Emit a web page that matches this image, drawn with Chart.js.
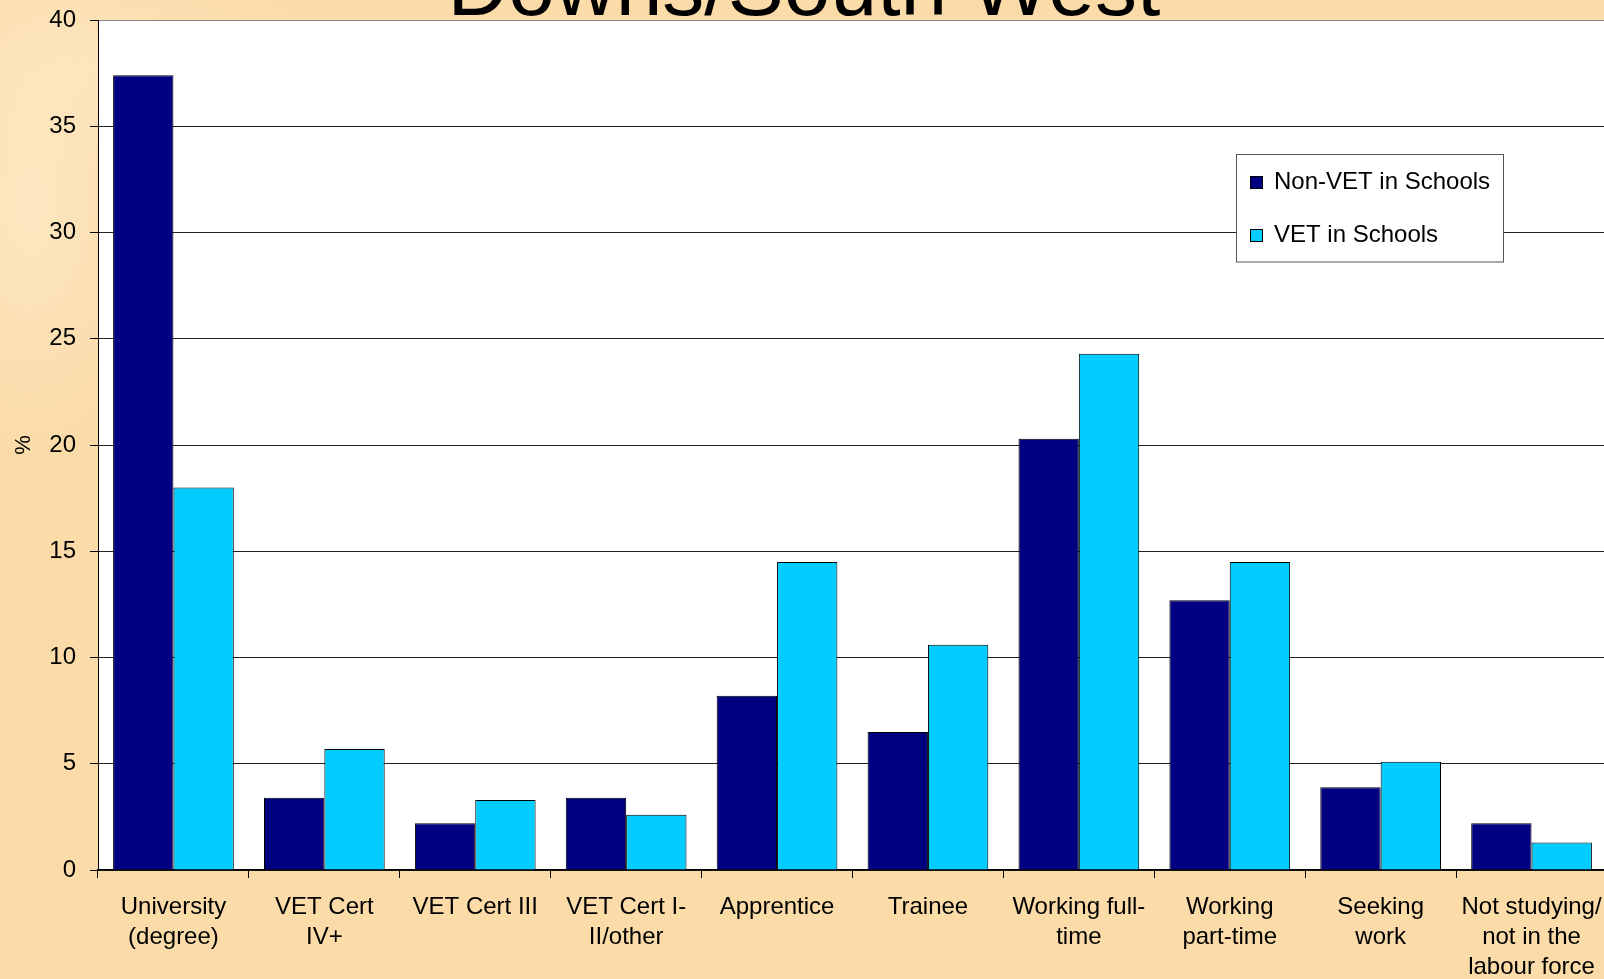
<!DOCTYPE html>
<html>
<head>
<meta charset="utf-8">
<title>Post-school destinations</title>
<script src="https://cdn.jsdelivr.net/npm/chart.js@4/dist/chart.umd.min.js"></script>
<style>
  html, body {
    margin: 0;
    padding: 0;
    overflow: hidden;
    width: 1604px;
    height: 979px;
    background-color: #fbdba8;
    background-image:
      radial-gradient(ellipse 140px 260px at 30px 200px, rgba(255, 240, 214, 0.55), rgba(255, 240, 214, 0) 100%),
      radial-gradient(ellipse 220px 120px at 120px 60px, rgba(255, 236, 204, 0.45), rgba(255, 236, 204, 0) 100%);
  }
  #wrap { position: absolute; left: 0; top: 0; }
</style>
</head>
<body>
<div id="wrap">
  <canvas id="destChart" width="1640" height="979"></canvas>
</div>
<script>
// Destinations of school leavers, by VET participation (%)
const categories = [
  ["University", "(degree)"],
  ["VET Cert", "IV+"],
  "VET Cert III",
  ["VET Cert I-", "II/other"],
  "Apprentice",
  "Trainee",
  ["Working full-", "time"],
  ["Working", "part-time"],
  ["Seeking", "work"],
  ["Not studying/", "not in the", "labour force"],
];
const nonVetValues = [37.4, 3.4, 2.2, 3.4, 8.2, 6.5, 20.3, 12.7, 3.9, 2.2];
const vetValues = [18.0, 5.7, 3.3, 2.6, 14.5, 10.6, 24.3, 14.5, 5.1, 1.3];
const seriesNames = ["Non-VET in Schools", "VET in Schools"];
const seriesColors = ["#000080", "#00ccff"];
const yTicks = [0, 5, 10, 15, 20, 25, 30, 35, 40];
const titleText = "Downs/South West";

const FONT = "'Liberation Sans', Arial, sans-serif";

// white plot background
const plotBg = {
  id: "plotBg",
  beforeDraw(chart) {
    const { ctx, chartArea: a } = chart;
    ctx.save();
    ctx.fillStyle = "#ffffff";
    ctx.fillRect(a.left, a.top, a.right - a.left, a.bottom - a.top);
    ctx.restore();
  },
};

// slide title (runs off the top) and boxed legend inside the plot
const overlay = {
  id: "overlay",
  afterDraw(chart) {
    const ctx = chart.ctx;
    ctx.save();
    ctx.fillStyle = "#000";
    ctx.font = "84px " + FONT;
    ctx.textAlign = "center";
    ctx.textBaseline = "alphabetic";
    ctx.fillText(titleText, 804, 14.5);

    // legend box
    const bx = 1236.5, by = 154.5, bw = 267, bh = 107.5;
    ctx.fillStyle = "#ffffff";
    ctx.fillRect(bx, by, bw, bh);
    ctx.strokeStyle = "#555";
    ctx.lineWidth = 1;
    ctx.strokeRect(bx, by, bw, bh);

    ctx.font = "24px " + FONT;
    ctx.textAlign = "left";
    chart.data.datasets.forEach((ds, i) => {
      const sy = 176.5 + i * 53;
      ctx.fillStyle = ds.backgroundColor;
      ctx.fillRect(1250.5, sy, 12, 12);
      ctx.strokeStyle = "#000";
      ctx.strokeRect(1250.5, sy, 12, 12);
      ctx.fillStyle = "#000";
      ctx.fillText(ds.label, 1274, 189 + i * 53);
    });
    ctx.restore();
  },
};

const ctx = document.getElementById("destChart").getContext("2d");
new Chart(ctx, {
  type: "bar",
  data: {
    labels: categories,
    datasets: [
      {
        label: seriesNames[0],
        data: nonVetValues,
        backgroundColor: seriesColors[0],
        borderColor: "#000",
        borderWidth: 1,
      },
      {
        label: seriesNames[1],
        data: vetValues,
        backgroundColor: seriesColors[1],
        borderColor: "#000",
        borderWidth: 1,
      },
    ],
  },
  options: {
    responsive: false,
    animation: false,
    devicePixelRatio: 1,
    layout: { padding: { top: 20, left: 0, right: 33, bottom: 0 } },
    datasets: {
      bar: { categoryPercentage: 0.8, barPercentage: 1.0 },
    },
    plugins: {
      legend: { display: false },
      tooltip: { enabled: false },
    },
    scales: {
      x: {
        afterFit(scale) {
          scale.height = 109;
          scale.paddingLeft = 0;
          scale.paddingRight = 0;
        },
        grid: {
          offset: true,
          drawOnChartArea: false,
          drawTicks: true,
          tickLength: 8,
          tickColor: "#000",
        },
        border: { color: "#000", width: 1.5 },
        ticks: {
          color: "#000",
          padding: 14,
          maxRotation: 0,
          autoSkip: false,
          font: { family: FONT, size: 24, lineHeight: 1.25 },
        },
      },
      y: {
        min: 0,
        max: 40,
        afterFit(scale) {
          scale.width = 98;
          scale.paddingTop = 0;
          scale.paddingBottom = 0;
        },
        afterBuildTicks(scale) { scale.ticks = yTicks.map(v => ({ value: v })); },
        grid: {
          color: (c) => (c.tick && c.tick.value === 40 ? "#8a8a8a" : "#222"),
          lineWidth: 1,
          tickLength: 8,
          tickColor: "#000",
        },
        border: { color: "#000", width: 1 },
        ticks: {
          color: "#000",
          padding: 14,
          font: { family: FONT, size: 24 },
        },
        title: {
          display: true,
          text: "%",
          color: "#000",
          padding: { top: 11, bottom: 0 },
          font: { family: FONT, size: 22 },
        },
      },
    },
  },
  plugins: [plotBg, overlay],
});
</script>
</body>
</html>
